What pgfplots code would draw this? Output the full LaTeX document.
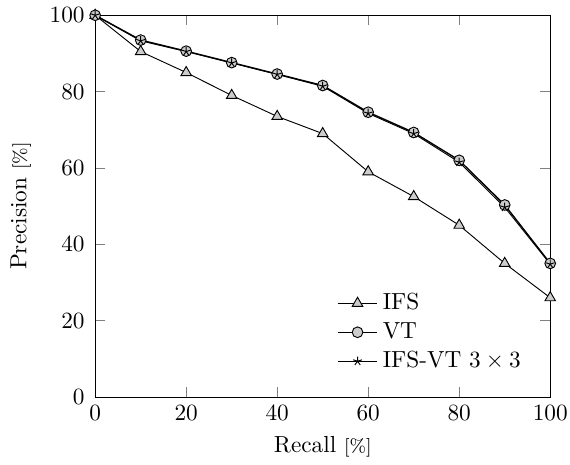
\documentclass[border=0pt]{standalone}
\usepackage{pgfplots}
\pgfplotsset{compat=1.18}
\begin{document}
\begin{tikzpicture}
\begin{axis}[
  scale only axis,
  width=195.5pt, height=164pt,
  xmin=0, xmax=100, ymin=0, ymax=100,
  xtick={0,20,40,60,80,100},
  ytick={0,20,40,60,80,100},
  yticklabel style={xshift=-1pt},
  xticklabel style={inner xsep=1pt},
  xlabel={Recall {\footnotesize[\%]}},
  ylabel={Precision {\footnotesize[\%]}},
  ylabel style={inner ysep=4.5pt},
  legend style={draw=none, fill=none, at={(0.515,0.042)}, anchor=south west},
  legend cell align=left,
  clip=false,
]
\addplot[black, mark=triangle*, mark size=2.6pt, mark options={fill=gray!40}] coordinates {
(0,100) (10,90.5) (20,85) (30,79) (40,73.5) (50,69) (60,59) (70,52.5) (80,45) (90,35) (100,26)};
\addlegendentry{IFS}
\addplot[black, semithick, mark=*, mark size=2.3pt, mark options={fill=gray!40, thin}] coordinates {
(0,100) (10,93.5) (20,90.6) (30,87.6) (40,84.6) (50,81.6) (60,74.6) (70,69.3) (80,62) (90,50.3) (100,35)};
\addlegendentry{VT}
\addplot[black, mark=star, mark size=2pt] coordinates {
(0,100) (10,93.3) (20,90.5) (30,87.5) (40,84.5) (50,81.4) (60,74.3) (70,69) (80,61.5) (90,49.7) (100,34.8)};
\addlegendentry{IFS-VT $3\times3$}
\end{axis}
\end{tikzpicture}
\end{document}
